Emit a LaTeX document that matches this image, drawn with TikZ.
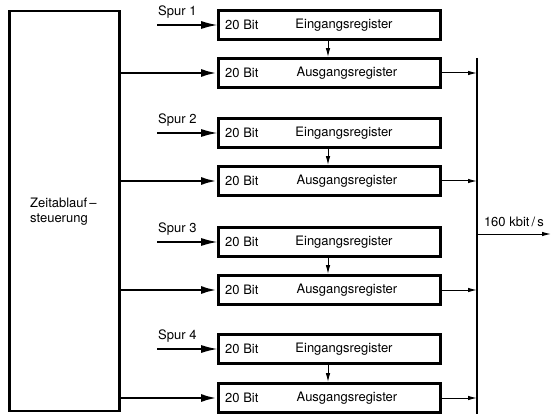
\documentclass[tikz,border=0pt]{standalone}
\usepackage{fontspec}
\setmainfont{TeX Gyre Heros}
\usetikzlibrary{arrows.meta}

\begin{document}
\begin{tikzpicture}[x=1pt, y=-1pt,
    every node/.style={font=\fontsize{13}{15}\selectfont},
    reg/.style={draw, line width=2.8pt, minimum width=222pt, minimum height=29pt, inner sep=0pt},
    txt/.style={inner sep=0pt},
    big/.style={-{Latex[length=16pt, width=8pt]}},
    small/.style={-{Latex[length=9pt, width=4.5pt]}, line width=1pt}]
    \useasboundingbox (0,0) rectangle (551,414);

    % Knoten
    \node[draw, line width=2.8pt, minimum width=110pt, minimum height=400pt] (zs) at (64.5,211) {};
    \node[txt, anchor=north west, align=left] (zstext) at (30,198) {Zeitablauf\,--\\steuerung};

    \node[reg] (e1) at (329.5,25) {};
    \node[reg] (a1) at (329.5,73) {};
    \node[reg] (e2) at (329.5,133) {};
    \node[reg] (a2) at (329.5,181) {};
    \node[reg] (e3) at (329.5,242) {};
    \node[reg] (a3) at (329.5,290) {};
    \node[reg] (e4) at (329.5,349) {};
    \node[reg] (a4) at (329.5,398) {};

    \node[txt, anchor=west] (e1b) at (225,25) {20 Bit};
    \node[txt, anchor=west] (a1b) at (225,73) {20 Bit};
    \node[txt, anchor=west] (e2b) at (225,133) {20 Bit};
    \node[txt, anchor=west] (a2b) at (225,181) {20 Bit};
    \node[txt, anchor=west] (e3b) at (225,242) {20 Bit};
    \node[txt, anchor=west] (a3b) at (225,290) {20 Bit};
    \node[txt, anchor=west] (e4b) at (225,349) {20 Bit};
    \node[txt, anchor=west] (a4b) at (225,398) {20 Bit};

    \node[txt] (e1n) at (344,25) {Eingangsregister};
    \node[txt] (a1n) at (347,73) {Ausgangsregister};
    \node[txt] (e2n) at (344,133) {Eingangsregister};
    \node[txt] (a2n) at (347,181) {Ausgangsregister};
    \node[txt] (e3n) at (344,242) {Eingangsregister};
    \node[txt] (a3n) at (347,290) {Ausgangsregister};
    \node[txt] (e4n) at (344,349) {Eingangsregister};
    \node[txt] (a4n) at (347,398) {Ausgangsregister};

    \coordinate (s1) at (157,25);
    \coordinate (s2) at (157,133);
    \coordinate (s3) at (157,242);
    \coordinate (s4) at (157,349);
    \node[txt, anchor=south west] (sp1) at (158,19) {Spur 1};
    \node[txt, anchor=south west] (sp2) at (158,127) {Spur 2};
    \node[txt, anchor=south west] (sp3) at (158,236) {Spur 3};
    \node[txt, anchor=south west] (sp4) at (158,343) {Spur 4};

    \coordinate (bt) at (477,58);
    \coordinate (bb) at (477,414);
    \coordinate (out) at (551,234);
    \node[txt, anchor=south] (rate) at (514,227) {160 kbit\,/\,s};

    % Verbindungen
    \draw[big, line width=1.1pt] (s1) -- (e1);
    \draw[big, line width=1.1pt] (s2) -- (e2);
    \draw[big, line width=1.1pt] (s3) -- (e3);
    \draw[big, line width=1.1pt] (s4) -- (e4);

    \draw[big, line width=2.6pt] (zs.east |- a1) -- (a1);
    \draw[big, line width=2.6pt] (zs.east |- a2) -- (a2);
    \draw[big, line width=2.6pt] (zs.east |- a3) -- (a3);
    \draw[big, line width=2.6pt] (zs.east |- a4) -- (a4);

    \draw[small] (e1.south -| 328,0) -- (a1.north -| 328,0);
    \draw[small] (e2.south -| 328,0) -- (a2.north -| 328,0);
    \draw[small] (e3.south -| 328,0) -- (a3.north -| 328,0);
    \draw[small] (e4.south -| 328,0) -- (a4.north -| 328,0);

    \draw[line width=2.8pt] (bt) -- (bb);
    \draw[small] (a1) -- (a1 -| bt);
    \draw[small] (a2) -- (a2 -| bt);
    \draw[small] (a3) -- (a3 -| bt);
    \draw[small] (a4) -- (a4 -| bt);
    \draw[small] (bt |- out) -- (out);
\end{tikzpicture}
\end{document}
